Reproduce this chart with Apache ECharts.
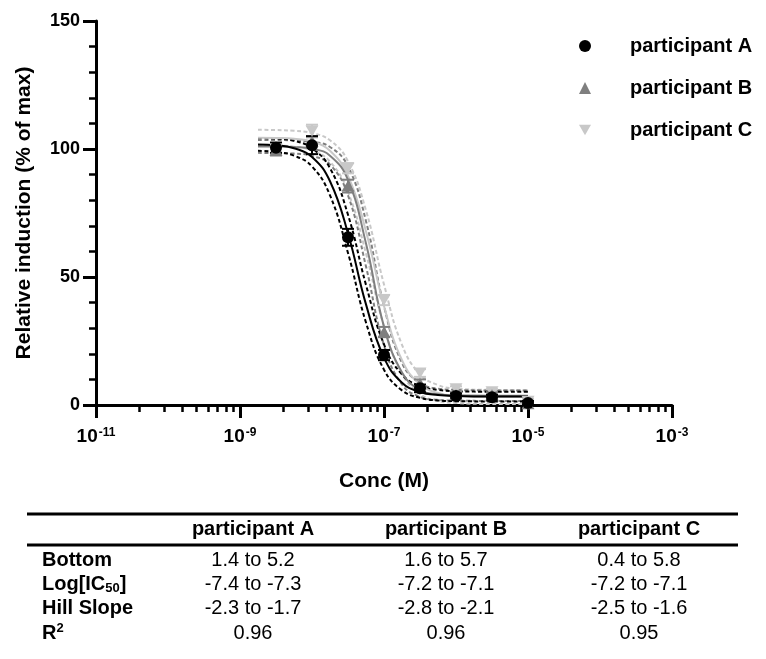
<!DOCTYPE html>
<html><head><meta charset="utf-8">
<script src="https://cdn.jsdelivr.net/npm/echarts@6/dist/echarts.min.js"></script>
<style>html,body{margin:0;padding:0;background:#fff}#c{width:766px;height:659px}</style>
</head><body><div id="c"></div>
<script>
const FONT = '"Liberation Sans", Arial, Helvetica, sans-serif';

// ---- data ----
const seriesNames = ['participant A', 'participant B', 'participant C'];
const doseLog = [-8.5, -8, -7.5, -7, -6.5, -6, -5.5, -5];
const respA = [100.5, 101.5, 65.5, 19.5, 6.5, 3.5, 3, 0.8];
const errA  = [2, 3.5, 3.3, 2, 1.5, 1, 1, 0.8];
const respB = [99.5, 103, 85.5, 28.5, 8.5, 4, 4, 0.5];
const errB  = [2, 2, 2.5, 2, 1.5, 1, 1, 0.5];
const respC = [100, 107, 92.5, 41, 12.5, 6.3, 5.2, 1.5];
const errC  = [2.5, 2.5, 2, 2, 1.5, 1, 1, 1];

const fitX     = [-8.75, -8.5, -8.25, -8, -7.75, -7.5, -7.25, -7, -6.75, -6.5, -6.25, -6, -5.5, -5];
const fitA     = [101.8, 101.5, 100.3, 96.9, 87.4, 67.0, 39.3, 18.5, 8.7, 5.1, 3.9, 3.5, 3.3, 3.3];
const fitAHigh = [104.3, 104.1, 103.2, 100.3, 92.5, 74.3, 46.9, 23.7, 11.9, 7.4, 5.9, 5.4, 5.2, 5.2];
const fitALow  = [99.3, 98.8, 97.4, 93.2, 81.9, 59.4, 32.2, 13.8, 5.7, 2.8, 1.8, 1.5, 1.4, 1.4];
const fitB     = [101.0, 101.0, 100.8, 100.1, 97.4, 87.9, 63.1, 30.6, 12.7, 5.8, 4.2, 3.8, 3.65, 3.65];
const fitBHigh = [103.5, 103.5, 103.3, 102.8, 100.8, 93.2, 71.8, 38.6, 16.4, 8.6, 6.4, 5.9, 5.7, 5.7];
const fitBLow  = [98.5, 98.4, 98.2, 97.3, 93.9, 81.9, 54.1, 23.3, 8.0, 3.2, 2.0, 1.7, 1.6, 1.6];
const fitC     = [104.4, 104.3, 104.0, 102.9, 99.3, 89.5, 67.8, 38.7, 17.5, 8.0, 4.7, 3.6, 3.1, 3.1];
const fitCHigh = [107.5, 107.4, 107.1, 106.2, 103.4, 95.2, 76.0, 47.1, 23.5, 12.0, 7.8, 6.4, 5.9, 5.8];
const fitCLow  = [101.4, 101.3, 100.9, 99.4, 95.1, 83.2, 59.2, 30.7, 12.2, 4.3, 1.6, 0.8, 0.4, 0.4];

const xMajorTicks = [-11, -9, -7, -5, -3];
const xTickExp = ['-11', '-9', '-7', '-5', '-3'];

const tableCols = ['participant A', 'participant B', 'participant C'];
const tableRowLabels = ['{b|Bottom}', '{b|Log[IC}{sub|50}{b|]}', '{b|Hill Slope}', '{b|R}{sup|2}'];
const tableValues = [
  ['1.4 to 5.2', '1.6 to 5.7', '0.4 to 5.8'],
  ['-7.4 to -7.3', '-7.2 to -7.1', '-7.2 to -7.1'],
  ['-2.3 to -1.7', '-2.8 to -2.1', '-2.5 to -1.6'],
  ['0.96', '0.96', '0.95']
];

// ---- styles ----
const colA = '#000000', colB = '#7f7f7f', colC = '#c8c8c8';
const triDown = 'path://M0,0L10,0L5,8.66Z';

// minor tick positions (log spacing inside each 2-decade major step)
const xMinorTicks = [];
for (let i = 0; i < xMajorTicks.length - 1; i++) {
  for (let k = 2; k <= 9; k++) xMinorTicks.push(xMajorTicks[i] + (xMajorTicks[i + 1] - xMajorTicks[i]) * Math.log10(k));
}

function pairs(xs, ys) { return xs.map((x, i) => [x, ys[i]]); }

function fitLine(name, ys, color, dashed) {
  return {
    type: 'line', name: name, data: pairs(fitX, ys), smooth: 0.45,
    symbol: 'none', showSymbol: false, silent: true, animation: false,
    lineStyle: { color: color, width: 2, type: dashed ? [4, 2.5] : 'solid' },
    z: dashed ? 2 : 3
  };
}

function errBars(name, ys, es, color) {
  return {
    type: 'custom', name: name + ' error', silent: true, animation: false, z: 4,
    data: doseLog.map((x, i) => [x, ys[i], es[i]]),
    encode: { x: 0, y: 1 },
    renderItem: function (params, api) {
      const x = api.value(0), y = api.value(1), e = api.value(2);
      const t = api.coord([x, y + e]), b = api.coord([x, y - e]);
      const hw = 6;
      const st = { stroke: color, lineWidth: 2 };
      return { type: 'group', children: [
        { type: 'line', shape: { x1: t[0], y1: t[1], x2: b[0], y2: b[1] }, style: st },
        { type: 'line', shape: { x1: t[0] - hw, y1: t[1], x2: t[0] + hw, y2: t[1] }, style: st },
        { type: 'line', shape: { x1: b[0] - hw, y1: b[1], x2: b[0] + hw, y2: b[1] }, style: st }
      ]};
    }
  };
}

function points(name, ys, color, symbol, size) {
  return {
    type: 'scatter', name: name, data: pairs(doseLog, ys), symbol: symbol, symbolSize: size,
    itemStyle: { color: color, opacity: 1 }, z: 5, animation: false, silent: true
  };
}

// ---- table graphics ----
const colCenters = [253, 446, 639];
const rowCenters = [560, 584, 608, 633];
const tableGraphics = [];
tableGraphics.push({ type: 'rect', shape: { x: 27, y: 512.5, width: 711, height: 3 }, style: { fill: '#000' } });
tableGraphics.push({ type: 'rect', shape: { x: 27, y: 543.5, width: 711, height: 3 }, style: { fill: '#000' } });
tableCols.forEach((t, i) => tableGraphics.push({
  type: 'text', x: colCenters[i], y: 529,
  style: { text: t, font: 'bold 20px ' + FONT, fill: '#000', align: 'center', verticalAlign: 'middle' }
}));
const rowRich = {
  b: { fontFamily: FONT, fontWeight: 'bold', fontSize: 20, lineHeight: 22, fill: '#000', verticalAlign: 'middle' },
  sub: { fontFamily: FONT, fontWeight: 'bold', fontSize: 13, lineHeight: 22, fill: '#000', verticalAlign: 'bottom' },
  sup: { fontFamily: FONT, fontWeight: 'bold', fontSize: 13, lineHeight: 22, fill: '#000', verticalAlign: 'top' }
};
tableRowLabels.forEach((t, r) => {
  tableGraphics.push({
    type: 'text', x: 42, y: rowCenters[r],
    style: { text: t, rich: rowRich, align: 'left', verticalAlign: 'middle' }
  });
  tableValues[r].forEach((v, c) => tableGraphics.push({
    type: 'text', x: colCenters[c], y: rowCenters[r],
    style: { text: v, font: '20px ' + FONT, fill: '#000', align: 'center', verticalAlign: 'middle' }
  }));
});

const chart = echarts.init(document.getElementById('c'), null, { renderer: 'canvas' });
chart.setOption({
  animation: false,
  backgroundColor: '#fff',
  grid: { left: 96, right: 94, top: 21, bottom: 254 },
  legend: {
    orient: 'vertical', left: 574, top: 31, itemWidth: 12, itemHeight: 12, itemGap: 22,
    selectedMode: false,
    data: [
      { name: seriesNames[0], icon: 'circle' },
      { name: seriesNames[1], icon: 'triangle' },
      { name: seriesNames[2], icon: triDown }
    ],
    textStyle: { fontFamily: FONT, fontSize: 20, fontWeight: 'bold', color: '#000', lineHeight: 20, padding: [0, 0, 0, 34] }
  },
  xAxis: [
    {
      type: 'value', min: -11, max: -3, position: 'bottom',
      axisLine: { show: true, onZero: false, lineStyle: { color: '#000', width: 3 } },
      axisTick: { show: true, customValues: xMajorTicks, length: 13, lineStyle: { color: '#000', width: 3 } },
      axisLabel: {
        customValues: xMajorTicks, margin: 22, showMinLabel: true, showMaxLabel: true,
        formatter: function (v) { const i = xMajorTicks.indexOf(Math.round(v)); return '{b|10}{s|' + xTickExp[i] + '}'; },
        rich: {
          b: { fontFamily: FONT, fontWeight: 'bold', fontSize: 19, lineHeight: 19, color: '#000' },
          s: { fontFamily: FONT, fontWeight: 'bold', fontSize: 12, lineHeight: 19, color: '#000', verticalAlign: 'top', padding: [0, 0, 6, 1] }
        }
      },
      splitLine: { show: false },
      name: 'Conc (M)', nameLocation: 'middle', nameGap: 66,
      nameTextStyle: { fontFamily: FONT, fontWeight: 'bold', fontSize: 21, color: '#000', lineHeight: 21 }
    },
    {
      type: 'value', min: -11, max: -3, position: 'bottom', offset: 0,
      axisLine: { show: false },
      axisTick: { show: true, customValues: xMinorTicks, length: 7, lineStyle: { color: '#000', width: 2.5 } },
      axisLabel: { show: false },
      splitLine: { show: false }
    }
  ],
  yAxis: {
    type: 'value', min: 0, max: 150, interval: 50,
    axisLine: { show: true, onZero: false, lineStyle: { color: '#000', width: 3 } },
    axisTick: { show: true, length: 13, lineStyle: { color: '#000', width: 3 } },
    minorTick: { show: true, splitNumber: 5, length: 7, lineStyle: { color: '#000', width: 2.5 } },
    axisLabel: { margin: 16, fontFamily: FONT, fontWeight: 'bold', fontSize: 18, color: '#000' },
    splitLine: { show: false },
    name: 'Relative induction (% of max)', nameLocation: 'middle', nameGap: 61,
    nameTextStyle: { fontFamily: FONT, fontWeight: 'bold', fontSize: 21, color: '#000', lineHeight: 21 }
  },
  series: [
    fitLine('C high', fitCHigh, colC, true),
    fitLine('C low', fitCLow, colC, true),
    fitLine('C fit', fitC, colC, false),
    fitLine('B high', fitBHigh, colB, true),
    fitLine('B low', fitBLow, colB, true),
    fitLine('B fit', fitB, colB, false),
    fitLine('A high', fitAHigh, colA, true),
    fitLine('A low', fitALow, colA, true),
    fitLine('A fit', fitA, colA, false),
    errBars('C', respC, errC, colC),
    errBars('B', respB, errB, colB),
    errBars('A', respA, errA, colA),
    points(seriesNames[2], respC, colC, triDown, [13, 11]),
    points(seriesNames[1], respB, colB, 'triangle', [13, 11]),
    points(seriesNames[0], respA, colA, 'circle', 12)
  ],
  graphic: tableGraphics
});
</script>
</body></html>
